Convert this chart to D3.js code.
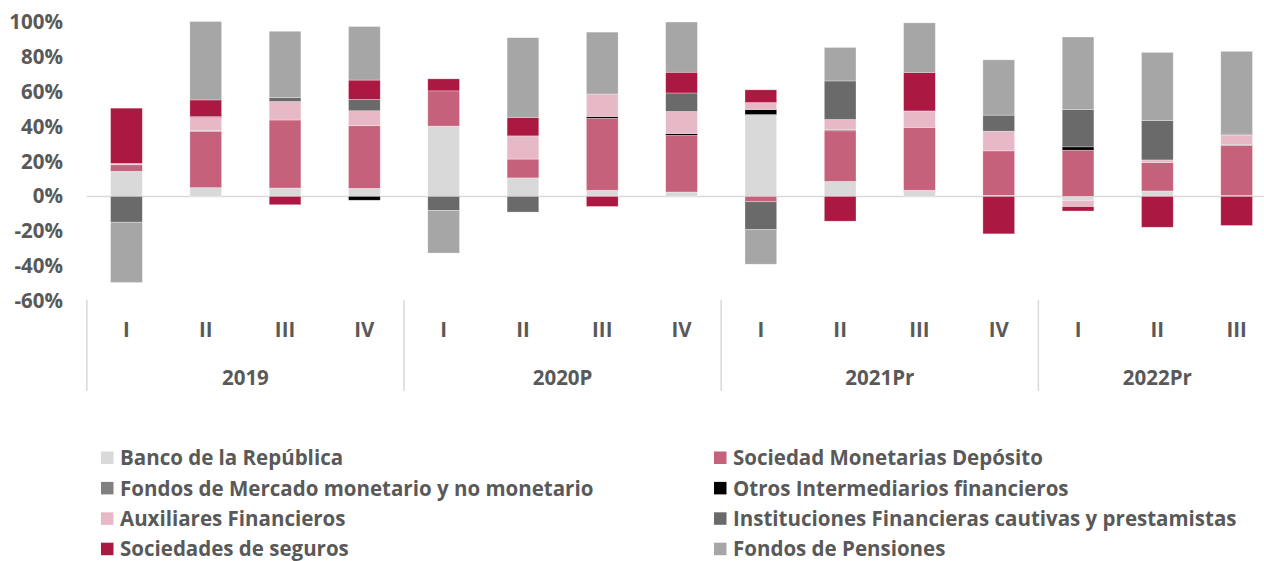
<!DOCTYPE html>
<html>
<head>
<meta charset="utf-8">
<script src="https://cdn.jsdelivr.net/npm/d3@7"></script>
<style>
  html, body { margin: 0; padding: 0; background: #fff; }
  svg { display: block; font-family: "Open Sans", "DejaVu Sans", sans-serif; }
</style>
</head>
<body>
<svg id="chart" width="1264" height="561"></svg>
<script>
// ---- DATA ----
const quarters = ["I","II","III","IV","I","II","III","IV","I","II","III","IV","I","II","III"];
const years = ["2019","2020P","2021Pr","2022Pr"];
const yearSpans = [4, 4, 4, 3];
const yTicks = [-60,-40,-20,0,20,40,60,80,100];

const seriesNames = [
  "Banco de la República",
  "Sociedad Monetarias Depósito",
  "Fondos de Mercado monetario y no monetario",
  "Otros Intermediarios financieros",
  "Auxiliares Financieros",
  "Instituciones Financieras cautivas y prestamistas",
  "Sociedades de seguros",
  "Fondos de Pensiones"
];
const seriesColors = ["#d9d9d9","#c6617c","#808080","#000000","#e7b9c6","#6a6a6a","#ab1942","#a6a6a6"];

const banco        = [14.4, 5.0, 4.8, 4.6, 40.3, 10.6, 3.5, 2.5, 46.9, 8.6, 3.5, 0.6, -2.3, 3.1, 0.5];
const sociedad     = [3.7, 32.3, 39.0, 35.9, 20.2, 10.8, 41.3, 32.5, -3.1, 29.0, 36.1, 25.5, 26.5, 16.3, 28.8];
const fondosMerc   = [0, 0.4, 0, 0, 0, 0, 0, 0, 0, 0.7, 0, 0, 0, 0, 0.5];
const otros        = [0, 0, 0, -2.2, 0, 0, 1.0, 1.0, 2.9, 0, 0, 0, 1.9, 0, 0];
const auxiliares   = [0.8, 7.5, 10.6, 8.6, 0, 13.3, 12.9, 12.7, 4.0, 5.8, 9.4, 11.3, -3.6, 1.5, 5.4];
const instituciones= [-14.8, 0.5, 2.3, 6.5, -8.1, -9.0, 0, 10.6, -16.0, 22.1, 0, 9.2, 21.3, 22.5, 0.5];
const seguros      = [31.7, 9.6, -4.8, 11.1, 6.9, 10.6, -5.8, 11.9, 7.3, -14.2, 22.1, -21.5, -2.5, -17.7, -16.7];
const pensiones    = [-34.6, 45.0, 38.0, 30.7, -24.4, 45.7, 35.5, 28.8, -19.8, 19.2, 28.4, 31.7, 41.7, 39.2, 47.5];

const seriesValues = [banco, sociedad, fondosMerc, otros, auxiliares, instituciones, seguros, pensiones];

// ---- BUILD ----
const rows = quarters.map((q, i) => {
  const r = { idx: i };
  seriesNames.forEach((n, s) => r[n] = seriesValues[s][i]);
  return r;
});

const svg = d3.select("#chart");
const textColor = "#595959";
const fontSize = 20.5;

const x = d3.scaleBand()
  .domain(d3.range(quarters.length))
  .range([86.8, 86.8 + 15 * 79.3])
  .paddingInner(0.6)
  .paddingOuter(0.3);

const y = d3.scaleLinear().domain([-60, 100]).range([301, 22]);

const stack = d3.stack()
  .keys(seriesNames)
  .order(d3.stackOrderNone)
  .offset(d3.stackOffsetDiverging);
const stacked = stack(rows);

// zero line
svg.append("line")
  .attr("x1", x.range()[0]).attr("x2", 1264)
  .attr("y1", y(0)).attr("y2", y(0))
  .attr("stroke", "#d9d9d9").attr("stroke-width", 1.5);

// bars
svg.append("g").selectAll("g")
  .data(stacked)
  .join("g")
  .attr("fill", (d, i) => seriesColors[i])
  .selectAll("rect")
  .data(d => d.filter(p => p[1] - p[0] !== 0))
  .join("rect")
  .attr("x", d => x(d.data.idx))
  .attr("width", x.bandwidth())
  .attr("y", d => y(Math.max(d[0], d[1])))
  .attr("height", d => Math.abs(y(d[0]) - y(d[1])))
  .attr("stroke", "#ffffff")
  .attr("stroke-opacity", 0.5)
  .attr("stroke-width", 0.6);

// y axis labels
const yAxis = d3.axisLeft(y).tickValues(yTicks).tickFormat(d => d + "%").tickSize(0).tickPadding(0);
const ya = svg.append("g").attr("transform", "translate(63,0)").call(yAxis);
ya.select(".domain").remove();
ya.selectAll("text")
  .attr("fill", textColor)
  .attr("font-size", fontSize)
  .attr("font-weight", 700)
  .attr("font-family", "'Open Sans', sans-serif");

// category axis
const xa = svg.append("g").attr("transform", "translate(0,330)")
  .call(d3.axisBottom(x).tickFormat(i => quarters[i]).tickSize(0).tickPadding(0));
xa.select(".domain").remove();
xa.selectAll("text")
  .attr("dy", "0.35em")
  .attr("y", 0)
  .attr("fill", textColor)
  .attr("font-size", fontSize)
  .attr("font-weight", 700)
  .attr("font-family", "'Open Sans', sans-serif");

// year groups
let start = 0;
const groupBounds = [];
years.forEach((yr, k) => {
  const s = start, e = start + yearSpans[k] - 1;
  groupBounds.push({ yr, s, e });
  start += yearSpans[k];
});
const step = x.step();
const sepX = [x.range()[0]].concat(groupBounds.slice(0, -1).map(g => x(g.e) + x.bandwidth() / 2 + step / 2));
svg.append("g").selectAll("line")
  .data(sepX)
  .join("line")
  .attr("x1", d => d).attr("x2", d => d)
  .attr("y1", 300).attr("y2", 391)
  .attr("stroke", "#d9d9d9").attr("stroke-width", 1.5);

svg.append("g").selectAll("text")
  .data(groupBounds)
  .join("text")
  .attr("x", g => (x(g.s) + x(g.e) + x.bandwidth()) / 2)
  .attr("y", 378)
  .attr("dy", "0.35em")
  .attr("text-anchor", "middle")
  .attr("fill", textColor)
  .attr("font-size", fontSize)
  .attr("font-weight", 700)
  .text(g => g.yr);

// legend
const legend = svg.append("g");
const legItems = legend.selectAll("g")
  .data(seriesNames)
  .join("g")
  .attr("transform", (d, i) => {
    const col = i % 2, row = Math.floor(i / 2);
    return `translate(${col === 0 ? 101 : 714},${451.5 + row * 30.4})`;
  });
legItems.append("rect")
  .attr("width", 12.5).attr("height", 12.5)
  .attr("fill", (d, i) => seriesColors[i]);
legItems.append("text")
  .attr("x", 19).attr("y", 6.5).attr("dy", "0.35em")
  .attr("fill", textColor)
  .attr("font-size", fontSize)
  .attr("font-weight", 700)
  .text(d => d);
</script>
</body>
</html>
